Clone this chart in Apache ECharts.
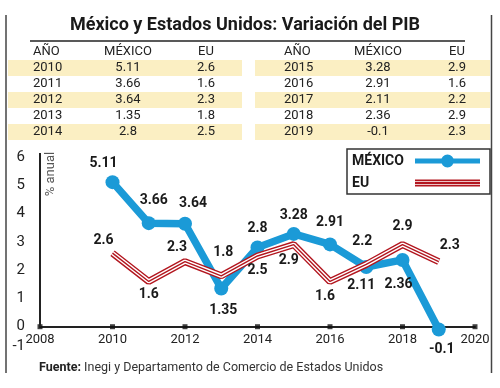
<!DOCTYPE html>
<html>
<head>
<meta charset="utf-8">
<script src="https://cdn.jsdelivr.net/npm/echarts@6/dist/echarts.min.js"></script>
<style>html,body{margin:0;padding:0;background:#fff}#c{width:500px;height:388px}</style>
</head>
<body>
<div id="c"></div>
<script>
const title = 'México y Estados Unidos: Variación del PIB';
const source = ['Fuente:', ' Inegi y Departamento de Comercio de Estados Unidos'];
const years = [2010, 2011, 2012, 2013, 2014, 2015, 2016, 2017, 2018, 2019];
const mexico = [5.11, 3.66, 3.64, 1.35, 2.8, 3.28, 2.91, 2.11, 2.36, -0.1];
const eu = [2.6, 1.6, 2.3, 1.8, 2.5, 2.9, 1.6, 2.2, 2.9, 2.3];
const tableHeaders = ['AÑO', 'MÉXICO', 'EU'];
const xTicks = [2008, 2010, 2012, 2014, 2016, 2018, 2020];
const yTicks = [-1, 0, 1, 2, 3, 4, 5, 6];
const yName = '% anual';
const seriesNames = ['MÉXICO', 'EU'];
// label placement: [position, dx, dy]
const mxLabelPlace = [['top',-9,0],['top',5,-4],['top',8,-1],['bottom',2,3],['top',0,0],['top',0,1],['top',0,-3],['bottom',-5,-1],['bottom',-4,6],['bottom',3,1]];
const euLabelPlace = [['top',-9,0],['bottom',0,0],['top',-8,-1],['top',2,-10],['bottom',0,2],['bottom',-5,3],['bottom',-5,2],['top',-4,-10],['top',0,-5],['top',11,-3]];

const BLUE = '#1b9ad7', RED = '#b3161f', YEL = '#fbefc3', INK = '#1a1a1a';
const FONT = 'Roboto';

const chart = echarts.init(document.getElementById('c'), null, {renderer: 'canvas'});

// table graphics
const g = [];
const colL = [{x: 33, align: 'left'}, {x: 128, align: 'center'}, {x: 206, align: 'center'}];
const colR = [{x: 284, align: 'left'}, {x: 378, align: 'center'}, {x: 457, align: 'center'}];
const rowY0 = 52, rowH = 16;
// frame
g.push({type: 'line', shape: {x1: 6, y1: 15, x2: 6, y2: 373}, style: {stroke: '#444', lineWidth: 1.5}});
g.push({type: 'line', shape: {x1: 491.5, y1: 15, x2: 491.5, y2: 373}, style: {stroke: '#444', lineWidth: 1.5}});
// title
g.push({type: 'text', x: 245, y: 25, style: {text: title, fontFamily: FONT, fontWeight: 'bold', fontSize: 18, fill: INK, align: 'center', verticalAlign: 'middle'}});
g.push({type: 'line', shape: {x1: 30, y1: 41, x2: 465, y2: 41}, style: {stroke: '#222', lineWidth: 1.5}});
// bands
for (let r = 0; r < 5; r += 2) {
  const y = rowY0 + rowH * (r + 1) - rowH / 2;
  g.push({type: 'rect', shape: {x: 8, y: y, width: 234, height: rowH}, style: {fill: YEL}, z: -1});
  g.push({type: 'rect', shape: {x: 255, y: y, width: 235, height: rowH}, style: {fill: YEL}, z: -1});
}
function cell(txt, col, y) {
  g.push({type: 'text', x: col.x, y: y, style: {text: txt, fontFamily: FONT, fontSize: 13, fill: '#222', align: col.align, verticalAlign: 'middle'}});
}
tableHeaders.forEach((h, i) => { cell(h, colL[i], rowY0); cell(h, colR[i], rowY0); });
years.forEach((yr, i) => {
  const cols = i < 5 ? colL : colR;
  const y = rowY0 + rowH * ((i % 5) + 1);
  cell(String(yr), cols[0], y);
  cell(String(mexico[i]), cols[1], y);
  cell(String(eu[i]), cols[2], y);
});
// y name
g.push({type: 'text', x: 51, y: 174, rotation: Math.PI / 2, style: {text: yName, fontFamily: FONT, fontSize: 13, fill: '#555', align: 'center', verticalAlign: 'middle'}});
// source
g.push({type: 'text', x: 39, y: 368, style: {text: '{b|' + source[0] + '}{n|' + source[1] + '}', fontFamily: FONT, fontSize: 12.5, fill: '#222', verticalAlign: 'middle',
  rich: {b: {fontFamily: FONT, fontWeight: 'bold', fontSize: 12.5, fill: '#222'}, n: {fontFamily: FONT, fontSize: 12.5, fill: '#333'}}}});

function lbl(place, v) {
  return {show: true, position: place[0], offset: [place[1], place[2]], formatter: String(v),
    fontFamily: FONT, fontWeight: 'bold', fontSize: 14, color: INK};
}
const mxData = years.map((y, i) => ({value: [y, mexico[i]], label: lbl(mxLabelPlace[i], mexico[i])}));
const euData = years.map((y, i) => ({value: [y, eu[i]], label: lbl(euLabelPlace[i], eu[i])}));
const euPlain = years.map((y, i) => [y, eu[i]]);
const yTop = 6.14;

const option = {
  animation: false,
  graphic: g,
  grid: {left: 40, right: 25, top: 153, bottom: 33, containLabel: false},
  legend: {
    left: 347, top: 149, orient: 'vertical', align: 'right',
    padding: [5, 10, 4, 5], itemGap: 8, itemWidth: 65, itemHeight: 14,
    borderColor: '#333', borderWidth: 1.5,
    formatter: '{a|{name}}',
    textStyle: {fontFamily: FONT, fontWeight: 'bold', fontSize: 14, color: INK,
      rich: {a: {fontFamily: FONT, fontWeight: 'bold', fontSize: 14, color: INK, width: 58, align: 'left'}}},
    data: [
      {name: seriesNames[0], icon: 'path://M0,4.5H27V9.5H0Z M38,4.5H65V9.5H38Z M26,7A6.5,6.5 0 1,1 39,7A6.5,6.5 0 1,1 26,7Z'},
      {name: seriesNames[1], icon: 'path://M0,0H0.01V0.01H0Z M64.99,13.99H65V14H64.99Z M0,3.5H65V5.3H0Z M0,6.1H65V7.9H0Z M0,8.7H65V10.5H0Z'}
    ]
  },
  xAxis: {
    type: 'value', min: 2008, max: 2020, interval: 2,
    axisLine: {onZero: true, lineStyle: {color: '#222', width: 2}},
    axisTick: {show: false}, splitLine: {show: false},
    axisLabel: {fontFamily: FONT, fontSize: 13, color: '#222', margin: -22, formatter: v => xTicks.includes(v) ? String(v) : ''}
  },
  yAxis: {
    type: 'value', min: yTicks[0], max: yTop, interval: 1,
    axisLine: {show: false}, axisTick: {show: false}, splitLine: {show: false},
    axisLabel: {fontFamily: FONT, fontSize: 15, color: '#222', margin: 15,
      formatter: v => yTicks.includes(v) ? (v < 0 ? '{up|' + v + '}' : String(v)) : '',
      rich: {up: {fontFamily: FONT, fontSize: 15, color: '#222', padding: [0, 0, 18, 0]}}}
  },
  series: [
    {type: 'scatter', name: 'ticks', symbol: 'rect', symbolSize: 5, itemStyle: {color: '#111'}, silent: true, z: 1,
      data: xTicks.map(t => [t, 0]),
      markLine: {silent: true, symbol: 'none', label: {show: false}, lineStyle: {color: '#222', width: 2, type: 'solid'},
        data: [[{coord: [xTicks[0], 0]}, {coord: [xTicks[0], yTop]}]]}},
    {type: 'line', name: seriesNames[0], data: mxData, symbol: 'circle', symbolSize: 14, showAllSymbol: true,
      lineStyle: {color: BLUE, width: 7.5}, itemStyle: {color: BLUE}, color: BLUE, clip: false, z: 2},
    {type: 'line', name: seriesNames[1], data: euPlain, symbol: 'none', lineStyle: {color: RED, width: 7}, color: RED, z: 3},
    {type: 'line', name: 'eu-w', data: euPlain, symbol: 'none', lineStyle: {color: '#fff', width: 4.2}, z: 4, silent: true},
    {type: 'line', name: 'eu-c', data: euData, symbol: 'circle', symbolSize: 2, showAllSymbol: true,
      itemStyle: {color: 'rgba(0,0,0,0)'}, lineStyle: {color: RED, width: 1.4}, z: 5, silent: true}
  ]
};
chart.setOption(option);
</script>
</body>
</html>
